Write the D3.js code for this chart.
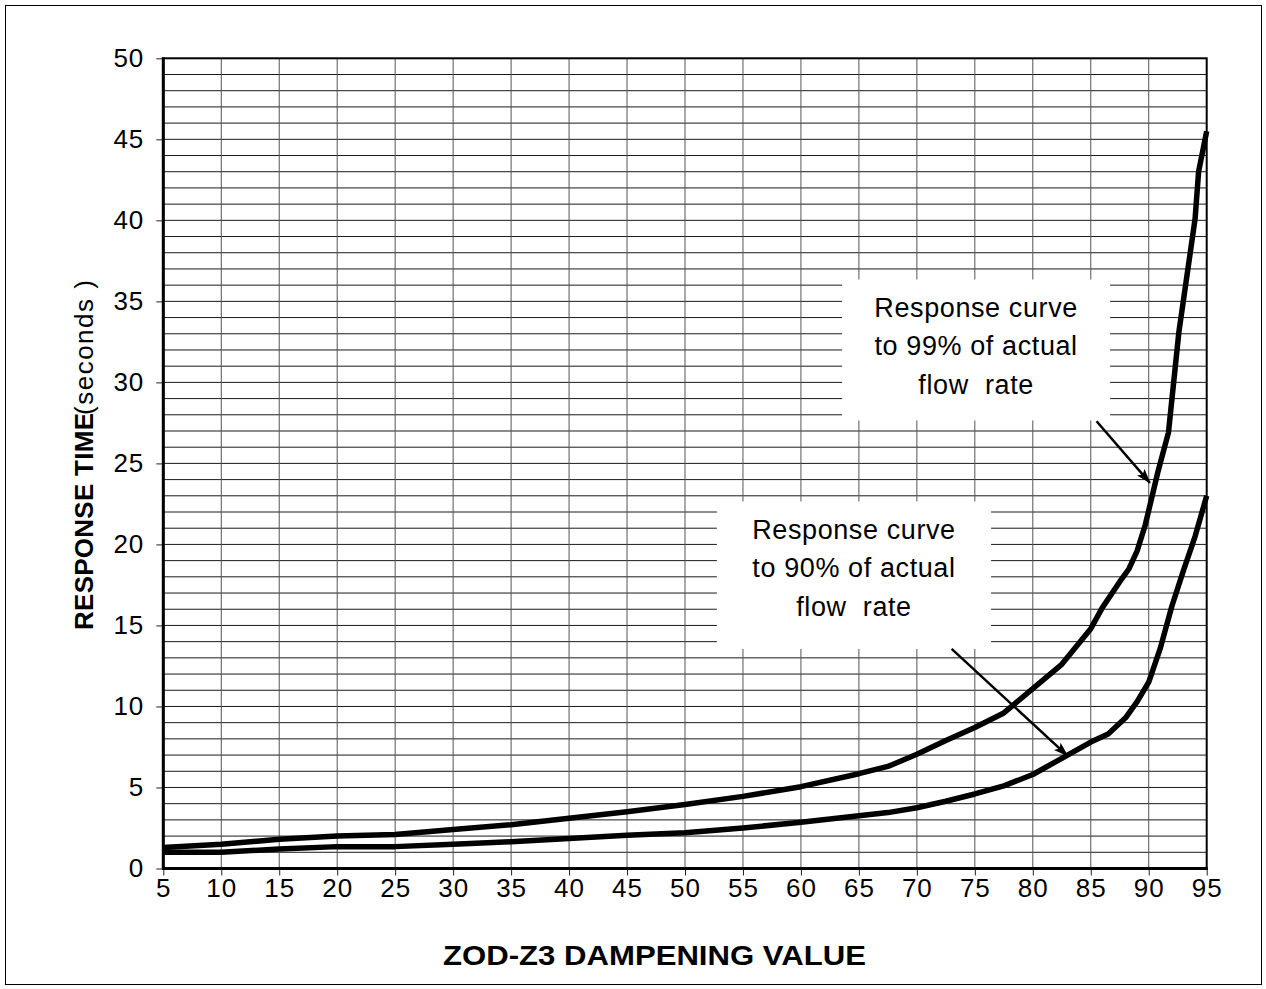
<!DOCTYPE html>
<html>
<head>
<meta charset="utf-8">
<script src="https://cdn.jsdelivr.net/npm/d3@7"></script>
<style>
	body { margin: 0; background: #fff; }
	svg { display: block; font-family: "Liberation Sans", Arial, sans-serif; }
	.axis text { font-size: 26px; letter-spacing: 1px; fill: #000; }
	.axis line { stroke: #222; }
	.axis path { display: none; }
</style>
</head>
<body>
<div id="chart-container"></div>
<script>
// dampening values (x) and response times (seconds)
var dampening99 = [5, 10, 15, 20, 25, 30, 35, 40, 45, 50, 55, 60, 65, 67.5, 70, 72.5, 75, 77.5, 80, 82.5, 85, 86, 87.5, 88.3, 89, 89.7, 90.8, 91.7, 92.6, 94, 94.3, 95];
var response99 = [1.3, 1.5, 1.8, 2.0, 2.1, 2.4, 2.7, 3.1, 3.5, 3.95, 4.45, 5.05, 5.85, 6.3, 7.05, 7.9, 8.7, 9.6, 11.1, 12.6, 14.8, 16.1, 17.7, 18.5, 19.6, 21.2, 24.5, 26.9, 33.1, 40.1, 43.0, 45.5];

var dampening90 = [5, 10, 15, 20, 25, 30, 35, 40, 45, 50, 55, 60, 65, 67.5, 70, 72.5, 75, 77.5, 80, 82.5, 85, 86.5, 88, 89, 90, 91, 92, 93, 94, 95];
var response90 = [1.0, 1.0, 1.2, 1.35, 1.35, 1.5, 1.65, 1.85, 2.05, 2.2, 2.5, 2.85, 3.25, 3.45, 3.75, 4.15, 4.6, 5.1, 5.8, 6.8, 7.8, 8.3, 9.3, 10.3, 11.5, 13.6, 16.2, 18.4, 20.5, 23.0];

var xTicks = [5, 10, 15, 20, 25, 30, 35, 40, 45, 50, 55, 60, 65, 70, 75, 80, 85, 90, 95];
var yTicks = [0, 5, 10, 15, 20, 25, 30, 35, 40, 45, 50];

var xTitle = "ZOD-Z3 DAMPENING VALUE";
var yTitleBold = "RESPONSE TIME";
var yTitleUnit = "(seconds )";

var note99Lines = ["Response curve", "to 99% of actual", "flow  rate"];
var note90Lines = ["Response curve", "to 90% of actual", "flow  rate"];

// label boxes and arrows, in data units: [x0, x1, yTop, yBottom], arrow [x1, y1, x2, y2]
var note99 = { box: [63.55, 86.67, 36.35, 27.65], arrow: [85.5, 27.6, 90.1, 23.8], lines: note99Lines };
var note90 = { box: [52.75, 76.4, 22.65, 13.55], arrow: [73.0, 13.55, 83.0, 6.95], lines: note90Lines };

var fullWidth = 1266,
	fullHeight = 989;

var plot = { left: 163.3, right: 1206.7, top: 58.3, bottom: 868.5 };

var xScale = d3.scaleLinear()
	.domain([5, 95])
	.range([plot.left, plot.right]);

var yScale = d3.scaleLinear()
	.domain([0, 50])
	.range([plot.bottom, plot.top]);

var svg = d3.select("#chart-container").append("svg")
	.attr("width", fullWidth)
	.attr("height", fullHeight);

// outer frame
svg.append("rect")
	.attr("x", 5.5)
	.attr("y", 5.5)
	.attr("width", fullWidth - 10)
	.attr("height", fullHeight - 10)
	.attr("fill", "none")
	.attr("stroke", "#000")
	.attr("stroke-width", 1);

svg.append("defs").append("marker")
	.attr("id", "arrowhead")
	.attr("viewBox", "0 0 15 10")
	.attr("refX", 14)
	.attr("refY", 5)
	.attr("markerWidth", 15)
	.attr("markerHeight", 10)
	.attr("markerUnits", "userSpaceOnUse")
	.attr("orient", "auto")
  .append("path")
	.attr("d", "M0,0L15,5L0,10L3,5z")
	.attr("fill", "#000");

// grid: horizontal every unit, vertical at each tick
var grid = svg.append("g").attr("class", "grid");

grid.selectAll(".hgrid")
	.data(d3.range(1, 50))
	.enter().append("line")
	.attr("class", "hgrid")
	.attr("x1", plot.left)
	.attr("x2", plot.right)
	.attr("y1", function(d) { return yScale(d); })
	.attr("y2", function(d) { return yScale(d); })
	.attr("stroke", "#1a1a1a")
	.attr("stroke-width", 1);

grid.selectAll(".vgrid")
	.data(xTicks.slice(1, -1))
	.enter().append("line")
	.attr("class", "vgrid")
	.attr("x1", function(d) { return xScale(d); })
	.attr("x2", function(d) { return xScale(d); })
	.attr("y1", plot.top)
	.attr("y2", plot.bottom)
	.attr("stroke", "#555")
	.attr("stroke-width", 1);

// axes
svg.append("g")
	.attr("class", "y axis")
	.attr("transform", "translate(" + plot.left + ",0)")
	.call(d3.axisLeft(yScale).tickValues(yTicks).tickSize(7).tickPadding(12));

svg.append("g")
	.attr("class", "x axis")
	.attr("transform", "translate(0," + plot.bottom + ")")
	.call(d3.axisBottom(xScale).tickValues(xTicks).tickSize(7).tickPadding(3));

// plot border
svg.append("rect")
	.attr("x", plot.left)
	.attr("y", plot.top)
	.attr("width", plot.right - plot.left)
	.attr("height", plot.bottom - plot.top)
	.attr("fill", "none")
	.attr("stroke", "#000")
	.attr("stroke-width", 2);

svg.append("line")
	.attr("x1", plot.left).attr("x2", plot.left)
	.attr("y1", plot.top - 1).attr("y2", plot.bottom + 1.5)
	.attr("stroke", "#000")
	.attr("stroke-width", 3);

svg.append("line")
	.attr("x1", plot.left).attr("x2", plot.right + 1)
	.attr("y1", plot.bottom).attr("y2", plot.bottom)
	.attr("stroke", "#000")
	.attr("stroke-width", 3);

// response curves
var line = d3.line()
	.x(function(d) { return xScale(d[0]); })
	.y(function(d) { return yScale(d[1]); });

var series = [
	d3.zip(dampening99, response99),
	d3.zip(dampening90, response90)
];

svg.selectAll(".curve")
	.data(series)
	.enter().append("path")
	.attr("class", "curve")
	.attr("d", line)
	.attr("fill", "none")
	.attr("stroke", "#000")
	.attr("stroke-width", 5.5)
	.attr("stroke-linejoin", "round");

// label boxes with arrows
[note99, note90].forEach(function(note) {
	var x0 = xScale(note.box[0]),
		x1 = xScale(note.box[1]),
		y0 = yScale(note.box[2]),
		y1 = yScale(note.box[3]);

	svg.append("rect")
		.attr("x", x0)
		.attr("y", y0)
		.attr("width", x1 - x0)
		.attr("height", y1 - y0)
		.attr("fill", "#fff");

	svg.append("text")
		.attr("text-anchor", "middle")
		.style("font-size", "27px")
		.style("letter-spacing", "0.6px")
		.attr("fill", "#000")
		.selectAll("tspan")
		.data(note.lines)
		.enter().append("tspan")
		.attr("x", (x0 + x1) / 2)
		.attr("y", function(d, i) { return y0 + 37.5 + i * 38.5; })
		.attr("xml:space", "preserve")
		.style("white-space", "pre")
		.text(function(d) { return d; });

	svg.append("line")
		.attr("x1", xScale(note.arrow[0]))
		.attr("y1", yScale(note.arrow[1]))
		.attr("x2", xScale(note.arrow[2]))
		.attr("y2", yScale(note.arrow[3]))
		.attr("stroke", "#000")
		.attr("stroke-width", 2.5)
		.attr("marker-end", "url(#arrowhead)");
});

// axis titles
svg.append("text")
	.attr("x", 654.5)
	.attr("y", 965)
	.attr("text-anchor", "middle")
	.attr("textLength", 423)
	.attr("lengthAdjust", "spacingAndGlyphs")
	.style("font-size", "28px")
	.style("font-weight", "bold")
	.text(xTitle);

var yTitle = svg.append("text")
	.attr("transform", "translate(93,630) rotate(-90)")
	.style("font-size", "26px");

yTitle.append("tspan")
	.attr("x", 0)
	.attr("textLength", 217)
	.style("font-weight", "bold")
	.text(yTitleBold);

yTitle.append("tspan")
	.attr("x", 215)
	.attr("textLength", 135)
	.attr("xml:space", "preserve")
	.style("white-space", "pre")
	.text(yTitleUnit);
</script>
</body>
</html>
